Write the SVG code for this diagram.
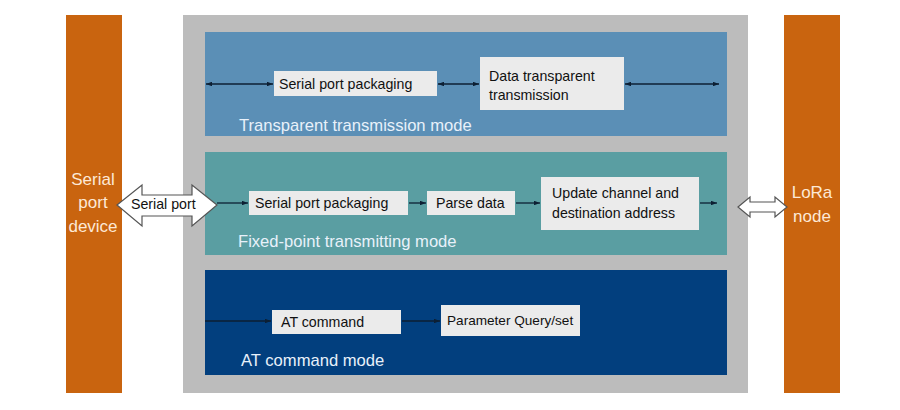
<svg xmlns="http://www.w3.org/2000/svg" width="900" height="410" viewBox="0 0 900 410">
<defs>
<marker id="ah" viewBox="0 0 8 6" refX="8" refY="3" markerWidth="6" markerHeight="4.5" markerUnits="userSpaceOnUse" orient="auto-start-reverse">
<path d="M0,0 L8,3 L0,6 z" fill="#0d1f33"/>
</marker>
</defs>
<style>
.bar{fill:#c9640f}
.bartxt{font-family:"Liberation Sans",Arial,sans-serif;font-size:17px;fill:#fde9d6;text-anchor:middle}
.box{fill:#ebebeb}
.txt{font-family:"Liberation Sans",Arial,sans-serif;font-size:14.2px;fill:#111}
.mode{font-family:"Liberation Sans",Arial,sans-serif;font-size:16.6px;fill:#e8f1fa}
.ln{stroke:#0d1f33;stroke-width:1.3;fill:none}
.dbl{fill:#ffffff;stroke:#555;stroke-width:1.2}
</style>
<rect width="900" height="410" fill="#ffffff"/>

<g id="serial-device">
<rect class="bar" x="66" y="15" width="56" height="378"/>
<text class="bartxt" x="93" y="185">Serial</text>
<text class="bartxt" x="93" y="208">port</text>
<text class="bartxt" x="93" y="232">device</text>
</g>

<g id="lora-node">
<rect class="bar" x="784" y="15" width="56" height="378"/>
<text class="bartxt" x="812" y="198">LoRa</text>
<text class="bartxt" x="812" y="222">node</text>
</g>

<g id="module">
<rect x="183" y="15" width="565" height="378" fill="#bcbcbc"/>
</g>

<g id="transparent-mode">
<rect x="205" y="32" width="522" height="104" fill="#5b8fb6"/>
<text class="mode" x="239" y="131">Transparent transmission mode</text>
</g>
<g id="fixed-mode">
<rect x="205" y="152" width="522" height="103" fill="#5a9ea2"/>
<text class="mode" x="238" y="247">Fixed-point transmitting mode</text>
</g>
<g id="at-mode">
<rect x="205" y="270" width="522" height="105" fill="#023f7e"/>
<text class="mode" x="241" y="366">AT command mode</text>
</g>

<g id="t-packaging">
<rect class="box" x="274" y="71" width="163" height="25"/>
<text class="txt" x="279" y="89">Serial port packaging</text>
</g>
<g id="t-data">
<rect class="box" x="480" y="57" width="144" height="53"/>
<text class="txt" x="489" y="81">Data transparent</text>
<text class="txt" x="489" y="100">transmission</text>
</g>

<g id="f-packaging">
<rect class="box" x="249" y="191" width="159" height="24"/>
<text class="txt" x="255" y="208">Serial port packaging</text>
</g>
<g id="f-parse">
<rect class="box" x="427" y="191" width="88" height="24"/>
<text class="txt" x="436" y="208">Parse data</text>
</g>
<g id="f-update">
<rect class="box" x="541" y="177" width="158" height="53"/>
<text class="txt" x="552" y="198">Update channel and</text>
<text class="txt" x="552" y="218">destination address</text>
</g>

<g id="a-at">
<rect class="box" x="272" y="310" width="129" height="24"/>
<text class="txt" x="281" y="327">AT command</text>
</g>
<g id="a-param">
<rect class="box" x="441" y="305" width="139" height="31"/>
<text class="txt" x="447" y="325" style="font-size:13.6px">Parameter Query/set</text>
</g>

<g id="serial-port-arrow">
<polygon class="dbl" points="117,205 142,185 142,195 192,195 192,185 217,205 192,226 192,216 142,216 142,226"/>
<text class="txt" x="131" y="209" style="font-size:14.2px">Serial port</text>
</g>
<g id="lora-arrow">
<polygon class="dbl" points="738,207 750,197 750,202 775,202 775,197 787,207 775,217 775,212 750,212 750,217"/>
</g>

<g id="connectors">
<line class="ln" x1="206" y1="84" x2="273" y2="84" marker-start="url(#ah)" marker-end="url(#ah)"/>
<line class="ln" x1="438" y1="84" x2="479" y2="84" marker-start="url(#ah)" marker-end="url(#ah)"/>
<line class="ln" x1="625" y1="84" x2="719" y2="84" marker-start="url(#ah)" marker-end="url(#ah)"/>
<line class="ln" x1="217" y1="203" x2="248" y2="203" marker-end="url(#ah)"/>
<line class="ln" x1="409" y1="203" x2="426" y2="203" marker-end="url(#ah)"/>
<line class="ln" x1="516" y1="203" x2="540" y2="203" marker-end="url(#ah)"/>
<line class="ln" x1="700" y1="203" x2="717" y2="203" marker-end="url(#ah)"/>
<line class="ln" x1="205" y1="321" x2="271" y2="321" marker-end="url(#ah)"/>
<line class="ln" x1="402" y1="321" x2="440" y2="321" marker-end="url(#ah)"/>
</g>
</svg>
